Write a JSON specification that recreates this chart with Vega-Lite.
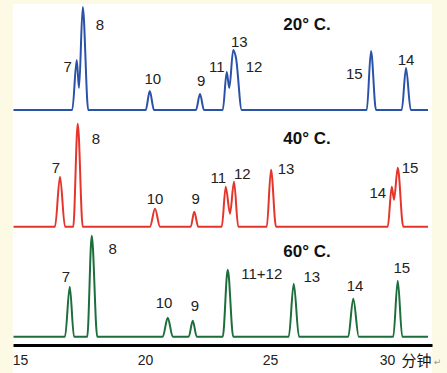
{
  "$schema": "https://vega.github.io/schema/vega-lite/v6.json",
  "autosize": {"type": "none"},
  "width": 419,
  "height": 369,
  "padding": {"left": 13, "top": 4, "right": 15, "bottom": 0},
  "background": "#fcf9e4",
  "config": {"view": {"fill": "white", "stroke": null}},
  "datasets": {
    "trace": [
      {"temp": "20", "t": 14.74, "h": 0}, {"temp": "20", "t": 17.09, "h": 0}, {"temp": "20", "t": 17.27, "h": 50}, {"temp": "20", "t": 17.36, "h": 22}, {"temp": "20", "t": 17.51, "h": 103}, {"temp": "20", "t": 17.73, "h": 0},
      {"temp": "20", "t": 20.03, "h": 0}, {"temp": "20", "t": 20.19, "h": 19}, {"temp": "20", "t": 20.36, "h": 0},
      {"temp": "20", "t": 22.04, "h": 0}, {"temp": "20", "t": 22.2, "h": 16}, {"temp": "20", "t": 22.36, "h": 0},
      {"temp": "20", "t": 23.11, "h": 0}, {"temp": "20", "t": 23.27, "h": 38}, {"temp": "20", "t": 23.37, "h": 22}, {"temp": "20", "t": 23.53, "h": 60}, {"temp": "20", "t": 23.64, "h": 52}, {"temp": "20", "t": 23.87, "h": 0},
      {"temp": "20", "t": 28.87, "h": 0}, {"temp": "20", "t": 29.04, "h": 59}, {"temp": "20", "t": 29.24, "h": 0},
      {"temp": "20", "t": 30.27, "h": 0}, {"temp": "20", "t": 30.44, "h": 42}, {"temp": "20", "t": 30.63, "h": 0}, {"temp": "20", "t": 31.32, "h": 0},

      {"temp": "40", "t": 14.74, "h": 0}, {"temp": "40", "t": 16.4, "h": 0}, {"temp": "40", "t": 16.6, "h": 50}, {"temp": "40", "t": 16.8, "h": 0},
      {"temp": "40", "t": 17.13, "h": 0}, {"temp": "40", "t": 17.31, "h": 103}, {"temp": "40", "t": 17.51, "h": 0},
      {"temp": "40", "t": 20.2, "h": 0}, {"temp": "40", "t": 20.4, "h": 18}, {"temp": "40", "t": 20.6, "h": 0},
      {"temp": "40", "t": 21.83, "h": 0}, {"temp": "40", "t": 21.97, "h": 15}, {"temp": "40", "t": 22.13, "h": 0},
      {"temp": "40", "t": 23.07, "h": 0}, {"temp": "40", "t": 23.23, "h": 40}, {"temp": "40", "t": 23.4, "h": 13}, {"temp": "40", "t": 23.56, "h": 45}, {"temp": "40", "t": 23.73, "h": 0},
      {"temp": "40", "t": 24.87, "h": 0}, {"temp": "40", "t": 25.04, "h": 57}, {"temp": "40", "t": 25.24, "h": 0},
      {"temp": "40", "t": 29.71, "h": 0}, {"temp": "40", "t": 29.87, "h": 40}, {"temp": "40", "t": 29.96, "h": 27}, {"temp": "40", "t": 30.11, "h": 59}, {"temp": "40", "t": 30.33, "h": 0}, {"temp": "40", "t": 31.32, "h": 0},

      {"temp": "60", "t": 14.74, "h": 0}, {"temp": "60", "t": 16.8, "h": 0}, {"temp": "60", "t": 16.99, "h": 50}, {"temp": "60", "t": 17.16, "h": 0},
      {"temp": "60", "t": 17.69, "h": 0}, {"temp": "60", "t": 17.87, "h": 101}, {"temp": "60", "t": 18.09, "h": 0},
      {"temp": "60", "t": 20.71, "h": 0}, {"temp": "60", "t": 20.91, "h": 19}, {"temp": "60", "t": 21.11, "h": 0},
      {"temp": "60", "t": 21.75, "h": 0}, {"temp": "60", "t": 21.91, "h": 16}, {"temp": "60", "t": 22.07, "h": 0},
      {"temp": "60", "t": 23.11, "h": 0}, {"temp": "60", "t": 23.31, "h": 67}, {"temp": "60", "t": 23.53, "h": 0},
      {"temp": "60", "t": 25.75, "h": 0}, {"temp": "60", "t": 25.95, "h": 53}, {"temp": "60", "t": 26.16, "h": 0},
      {"temp": "60", "t": 28.13, "h": 0}, {"temp": "60", "t": 28.33, "h": 38}, {"temp": "60", "t": 28.55, "h": 0},
      {"temp": "60", "t": 29.93, "h": 0}, {"temp": "60", "t": 30.11, "h": 56}, {"temp": "60", "t": 30.29, "h": 0}, {"temp": "60", "t": 31.32, "h": 0}
    ],
    "labels": [
      {"temp": "20", "t": 16.91, "h": 43, "text": "7"}, {"temp": "20", "t": 18.2, "h": 85, "text": "8"}, {"temp": "20", "t": 20.31, "h": 31, "text": "10"}, {"temp": "20", "t": 22.25, "h": 29, "text": "9"}, {"temp": "20", "t": 22.87, "h": 43, "text": "11"}, {"temp": "20", "t": 23.77, "h": 68, "text": "13"}, {"temp": "20", "t": 24.36, "h": 43, "text": "12"}, {"temp": "20", "t": 28.37, "h": 36, "text": "15"}, {"temp": "20", "t": 30.44, "h": 50, "text": "14"},
      {"temp": "40", "t": 16.44, "h": 59, "text": "7"}, {"temp": "40", "t": 18.04, "h": 88, "text": "8"}, {"temp": "40", "t": 20.4, "h": 28, "text": "10"}, {"temp": "40", "t": 22.03, "h": 28, "text": "9"}, {"temp": "40", "t": 22.93, "h": 49, "text": "11"}, {"temp": "40", "t": 23.89, "h": 53, "text": "12"}, {"temp": "40", "t": 25.64, "h": 58, "text": "13"}, {"temp": "40", "t": 29.31, "h": 34, "text": "14"}, {"temp": "40", "t": 30.6, "h": 59, "text": "15"},
      {"temp": "60", "t": 16.84, "h": 60, "text": "7"}, {"temp": "60", "t": 18.71, "h": 88, "text": "8"}, {"temp": "60", "t": 20.76, "h": 34, "text": "10"}, {"temp": "60", "t": 22.0, "h": 31, "text": "9"}, {"temp": "60", "t": 24.67, "h": 63, "text": "11+12"}, {"temp": "60", "t": 26.67, "h": 60, "text": "13"}, {"temp": "60", "t": 28.4, "h": 51, "text": "14"}, {"temp": "60", "t": 30.27, "h": 69, "text": "15"}
    ],
    "titles": [
      {"temp": "20", "t": 26.48, "h": 85, "text": "20° C."},
      {"temp": "40", "t": 26.48, "h": 88, "text": "40° C."},
      {"temp": "60", "t": 26.48, "h": 85, "text": "60° C."}
    ],
    "marks": [
      {"temp": "60", "t": 31.7, "h": -25, "text": "↵"}
    ]
  },
  "encoding": {
    "x": {"field": "t", "type": "quantitative", "scale": {"domain": [14.72, 31.48], "nice": false, "zero": false},
          "axis": {"values": [15, 20, 25, 30], "offset": -28, "domainColor": "#000", "domainWidth": 3, "ticks": false, "grid": false,
                   "labelFont": "Liberation Sans", "labelFontSize": 14, "labelColor": "#222", "labelPadding": 8,
                   "labelOffset": {"condition": {"test": "datum.value == 30", "value": -8}, "value": 0},
                   "title": "分钟", "titleFont": "Noto Sans CJK SC", "titleFontSize": 15, "titleFontWeight": "normal", "titleColor": "#111",
                   "titleX": 403, "titleY": 15, "titleAlign": "center", "titleBaseline": "middle", "titleAnchor": null}}
  },
  "resolve": {"scale": {"y": "independent"}, "axis": {"y": "independent"}},
  "layer": [
    {"data": {"name": "trace"}, "transform": [{"filter": "datum.temp == '20'"}],
     "mark": {"type": "line", "interpolate": "monotone", "color": "#2a52a8", "strokeWidth": 2},
     "encoding": {"y": {"field": "h", "type": "quantitative", "scale": {"domain": [-263, 106], "nice": false, "zero": false}, "axis": null}}},
    {"data": {"name": "labels"}, "transform": [{"filter": "datum.temp == '20'"}],
     "mark": {"type": "text", "font": "Liberation Sans", "fontSize": 15, "color": "#222", "baseline": "middle", "align": "center"},
     "encoding": {"y": {"field": "h", "type": "quantitative", "scale": {"domain": [-263, 106], "nice": false, "zero": false}, "axis": null}, "text": {"field": "text"}}},
    {"data": {"name": "titles"}, "transform": [{"filter": "datum.temp == '20'"}],
     "mark": {"type": "text", "font": "Liberation Sans", "fontSize": 17, "fontWeight": "bold", "color": "#111", "baseline": "middle", "align": "center"},
     "encoding": {"y": {"field": "h", "type": "quantitative", "scale": {"domain": [-263, 106], "nice": false, "zero": false}, "axis": null}, "text": {"field": "text"}}},

    {"data": {"name": "trace"}, "transform": [{"filter": "datum.temp == '40'"}],
     "mark": {"type": "line", "interpolate": "monotone", "color": "#e5352b", "strokeWidth": 2},
     "encoding": {"y": {"field": "h", "type": "quantitative", "scale": {"domain": [-146.3, 222.7], "nice": false, "zero": false}, "axis": null}}},
    {"data": {"name": "labels"}, "transform": [{"filter": "datum.temp == '40'"}],
     "mark": {"type": "text", "font": "Liberation Sans", "fontSize": 15, "color": "#222", "baseline": "middle", "align": "center"},
     "encoding": {"y": {"field": "h", "type": "quantitative", "scale": {"domain": [-146.3, 222.7], "nice": false, "zero": false}, "axis": null}, "text": {"field": "text"}}},
    {"data": {"name": "titles"}, "transform": [{"filter": "datum.temp == '40'"}],
     "mark": {"type": "text", "font": "Liberation Sans", "fontSize": 17, "fontWeight": "bold", "color": "#111", "baseline": "middle", "align": "center"},
     "encoding": {"y": {"field": "h", "type": "quantitative", "scale": {"domain": [-146.3, 222.7], "nice": false, "zero": false}, "axis": null}, "text": {"field": "text"}}},

    {"data": {"name": "trace"}, "transform": [{"filter": "datum.temp == '60'"}],
     "mark": {"type": "line", "interpolate": "monotone", "color": "#1d6e3c", "strokeWidth": 2},
     "encoding": {"y": {"field": "h", "type": "quantitative", "scale": {"domain": [-36.3, 332.7], "nice": false, "zero": false}, "axis": null}}},
    {"data": {"name": "labels"}, "transform": [{"filter": "datum.temp == '60'"}],
     "mark": {"type": "text", "font": "Liberation Sans", "fontSize": 15, "color": "#222", "baseline": "middle", "align": "center"},
     "encoding": {"y": {"field": "h", "type": "quantitative", "scale": {"domain": [-36.3, 332.7], "nice": false, "zero": false}, "axis": null}, "text": {"field": "text"}}},
    {"data": {"name": "titles"}, "transform": [{"filter": "datum.temp == '60'"}],
     "mark": {"type": "text", "font": "Liberation Sans", "fontSize": 17, "fontWeight": "bold", "color": "#111", "baseline": "middle", "align": "center"},
     "encoding": {"y": {"field": "h", "type": "quantitative", "scale": {"domain": [-36.3, 332.7], "nice": false, "zero": false}, "axis": null}, "text": {"field": "text"}}},
    {"data": {"name": "marks"},
     "mark": {"type": "text", "font": "DejaVu Sans", "fontSize": 9, "color": "#999", "baseline": "middle", "align": "center"},
     "encoding": {"y": {"field": "h", "type": "quantitative", "scale": {"domain": [-36.3, 332.7], "nice": false, "zero": false}, "axis": null}, "text": {"field": "text"}}}
  ]
}
